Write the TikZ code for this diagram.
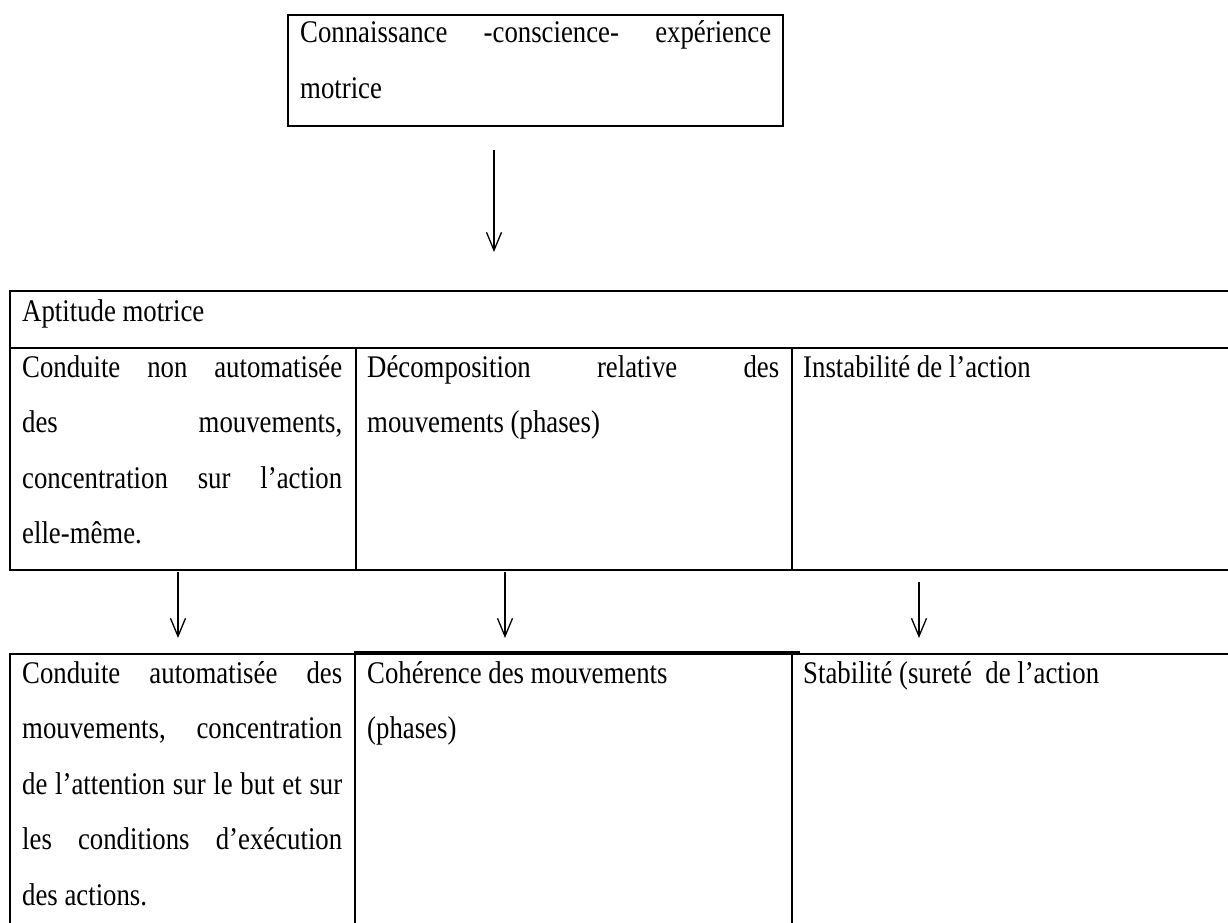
\documentclass[tikz,border=0pt]{standalone}
\usepackage{fontspec}
\setmainfont[FakeStretch=0.85]{Liberation Serif}
\usetikzlibrary{arrows.meta}
\newcommand\justline[1]{\makebox[\linewidth][s]{#1}}
\begin{document}
\begin{tikzpicture}[x=1pt,y=-1pt,
  frame/.style={draw, line width=2pt, inner sep=0pt, anchor=north west},
  txt/.style={inner sep=0pt, anchor=base west, font=\fontsize{31.5}{55.5}\selectfont},
  arr/.style={line width=1.3pt, -{Straight Barb[length=18pt,width=15pt]}}]
\useasboundingbox (0,0) rectangle (1228,923);
% top box
\node[frame, minimum width=495pt, minimum height=111pt] (topbox) at (287,14) {};
\node[txt] (ttop) at (300,43) {\parbox[t]{471pt}{\justline{Connaissance -conscience- expérience}\\motrice}};
% table 1
\node[frame, minimum width=1240pt, minimum height=57pt] (apt) at (9,290) {};
\node[frame, minimum width=346pt, minimum height=222pt] (c11) at (9,347) {};
\node[frame, minimum width=436pt, minimum height=222pt] (c12) at (355,347) {};
\node[frame, minimum width=460pt, minimum height=222pt] (c13) at (791,347) {};
\node[txt] (tapt) at (22,321) {Aptitude motrice};
\node[txt] (t11) at (22,377) {\parbox[t]{320pt}{\justline{Conduite non automatisée}\\\justline{des mouvements,}\\\justline{concentration sur l’action}\\elle-même.}};
\node[txt] (t12) at (367,377) {\parbox[t]{412pt}{\justline{Décomposition relative des}\\mouvements (phases)}};
\node[txt] (t13) at (803,377) {Instabilité de l’action};
% table 2
\node[frame, minimum width=345pt, minimum height=300pt] (d11) at (9,653) {};
\node[frame, minimum width=437pt, minimum height=300pt] (d12) at (354,653) {};
\node[frame, minimum width=460pt, minimum height=300pt] (d13) at (791,653) {};
\coordinate (thickend) at (800,652.5);
\draw[line width=3pt] (d12.north west |- thickend) -- (thickend);
\node[txt] (t21) at (22,683) {\parbox[t]{320pt}{\justline{Conduite automatisée des}\\\justline{mouvements, concentration}\\\justline{de l’attention sur le but et sur}\\\justline{les conditions d’exécution}\\des actions.}};
\node[txt] (t22) at (367,683) {\parbox[t]{412pt}{Cohérence des mouvements\\(phases)}};
\node[txt] (t23) at (803,683) {Stabilité (sureté\ \ de l’action};
% arrows
\coordinate (a0s) at (494,150); \coordinate (a0e) at (494,252);
\coordinate (a1s) at (178,572); \coordinate (a1e) at (178,638);
\coordinate (a2s) at (505,572); \coordinate (a2e) at (505,638);
\coordinate (a3s) at (919,582); \coordinate (a3e) at (919,638);
\draw[arr] (a0s) -- (a0e);
\draw[arr] (a1s) -- (a1e);
\draw[arr] (a2s) -- (a2e);
\draw[arr] (a3s) -- (a3e);
\end{tikzpicture}
\end{document}
